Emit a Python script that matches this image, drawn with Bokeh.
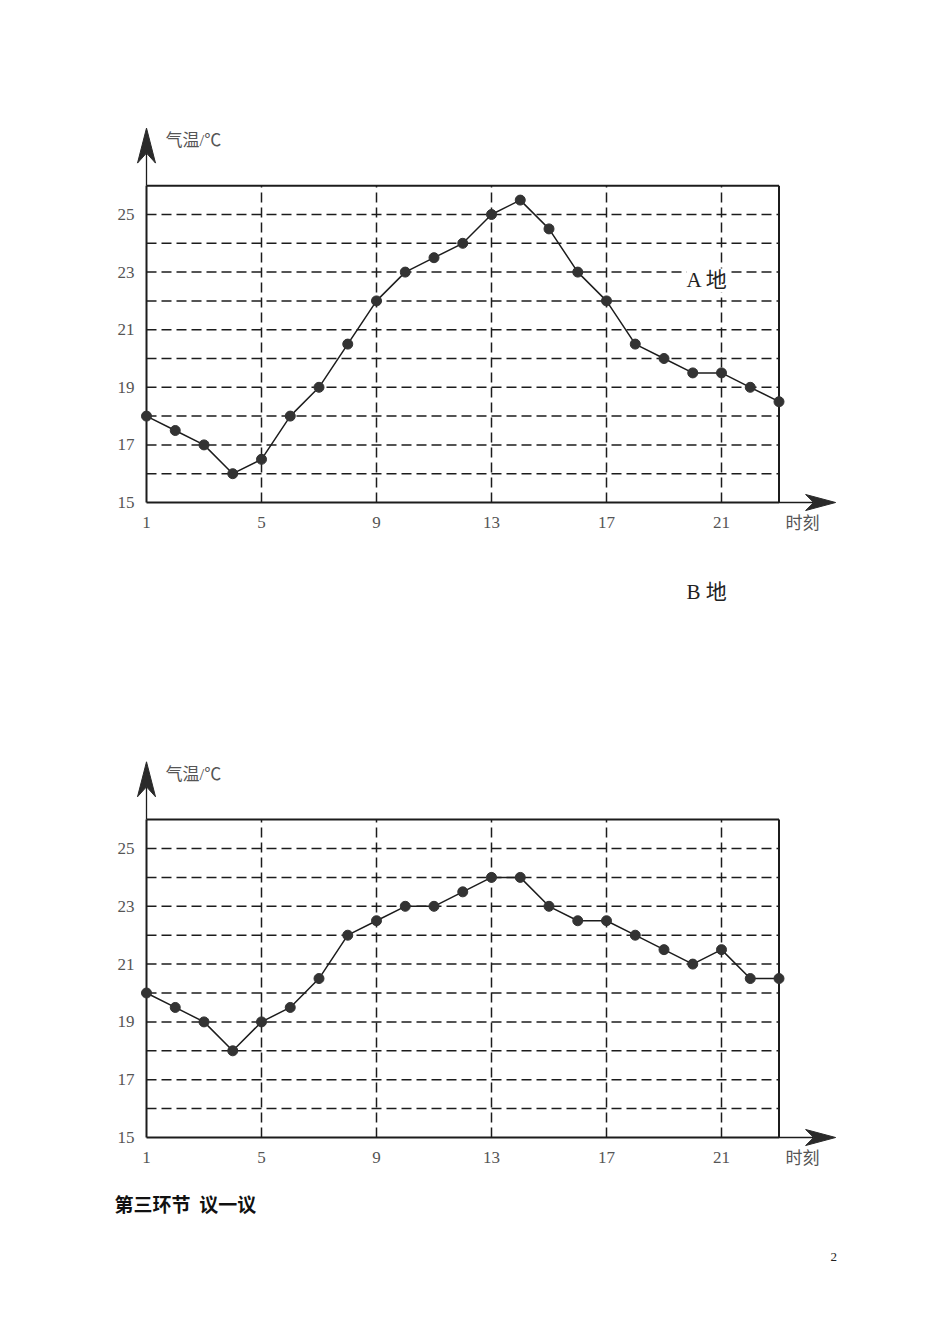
from bokeh.plotting import figure
from bokeh.models import Range1d, FixedTicker, Label
from bokeh.layouts import column
from bokeh.embed import file_html
from bokeh.resources import INLINE

# ---------------- data ----------------
hours = list(range(1, 24))
temp_a = [18, 17.5, 17, 16, 16.5, 18, 19, 20.5, 22, 23, 23.5, 24, 25, 25.5,
          24.5, 23, 22, 20.5, 20, 19.5, 19.5, 19, 18.5]
temp_b = [20, 19.5, 19, 18, 19, 19.5, 20.5, 22, 22.5, 23, 23, 23.5, 24, 24,
          23, 22.5, 22.5, 22, 21.5, 21, 21.5, 20.5, 20.5]
x_ticks = [1, 5, 9, 13, 17, 21]
y_ticks = [15, 17, 19, 21, 23, 25]
grid_x = [5, 9, 13, 17, 21]
grid_y = [16, 17, 18, 19, 20, 21, 22, 23, 24, 25]
x_min, x_max = 1, 23
y_min, y_max = 15, 26
y_title = "气温/℃"
x_title = "时刻"
place_a = "A 地"
place_b = "B 地"
section = "第三环节\u00a0\u00a0议一议"
page_no = "2"

SERIF = "'Liberation Serif', 'Noto Sans CJK SC'"
INK = "#1c1c1c"
GRAY = "#555555"

# layout (pixels)
FRAME_LEFT = 60          # frame starts here; the axis panel lies left of it
FRAME_W = 890
AXIS_PX = 146            # where hour 1 sits
SX = 28.75               # px per hour
BOTTOM_PANEL = 40


def make_chart(temps, fig_h, axis_y_px, sy):
    frame_h = fig_h - BOTTOM_PANEL
    x0 = x_min - (AXIS_PX - FRAME_LEFT) / SX
    x1 = x0 + FRAME_W / SX
    y1 = y_min + axis_y_px / sy
    y0 = y1 - frame_h / sy
    p = figure(output_backend="svg", toolbar_location=None,
               frame_width=FRAME_W, frame_height=frame_h,
               min_border_left=FRAME_LEFT, min_border_right=0,
               min_border_top=0, min_border_bottom=BOTTOM_PANEL,
               x_range=Range1d(x0, x1), y_range=Range1d(y0, y1),
               background_fill_color="white", border_fill_color="white")
    p.outline_line_color = None
    p.grid.visible = False
    sx = SX

    for ax in (p.xaxis, p.yaxis):
        ax.axis_line_color = None
        ax.major_tick_line_color = None
        ax.minor_tick_line_color = None
        ax.major_label_text_font = "Liberation Serif"
        ax.major_label_text_font_size = "17px"
        ax.major_label_text_color = GRAY
    p.xaxis.ticker = FixedTicker(ticks=x_ticks)
    p.yaxis.ticker = FixedTicker(ticks=y_ticks)
    p.xaxis.fixed_location = y_min
    p.yaxis.fixed_location = x_min
    p.xaxis.major_label_standoff = 8
    p.yaxis.major_label_standoff = 6

    # dashed grid inside the box
    p.segment(x0=[x_min] * len(grid_y), x1=[x_max] * len(grid_y), y0=grid_y, y1=grid_y,
              line_color=INK, line_width=1.5, line_dash="10 5")
    p.segment(x0=grid_x, x1=grid_x, y0=[y_min] * len(grid_x), y1=[y_max] * len(grid_x),
              line_color=INK, line_width=1.5, line_dash="10 5")

    # box: top and right borders, axes
    p.segment(x0=[x_min, x_max, x_min, x_min], x1=[x_max, x_max, x_min, x_max],
              y0=[y_max, y_min, y_min, y_min], y1=[y_max, y_max, y_max, y_min],
              line_color=INK, line_width=2)

    # arrows
    ty = y_max + 2.0
    tx = x_max + 1.97
    L, hw, notch = 35, 9, 10
    p.segment(x0=[x_min], x1=[x_min], y0=[y_max], y1=[ty - (L - notch) / sy],
              line_color=INK, line_width=1.3)
    p.patch(x=[x_min, x_min - hw / sx, x_min, x_min + hw / sx],
            y=[ty, ty - L / sy, ty - (L - notch) / sy, ty - L / sy],
            fill_color="#2a2a2a", line_color="#2a2a2a", line_width=1)
    Lx, hwx, notchx = 30, 8, 8
    p.segment(x0=[x_max], x1=[tx - (Lx - notchx) / sx], y0=[y_min], y1=[y_min],
              line_color=INK, line_width=1.3)
    p.patch(x=[tx, tx - Lx / sx, tx - (Lx - notchx) / sx, tx - Lx / sx],
            y=[y_min, y_min + hwx / sy, y_min, y_min - hwx / sy],
            fill_color="#2a2a2a", line_color="#2a2a2a", line_width=1)

    # series
    p.line(hours, temps, line_color=INK, line_width=1.5)
    p.scatter(hours, temps, size=10, fill_color="#333333", line_color="#333333")

    # axis titles
    p.add_layout(Label(x=x_min + 0.66, y=y_max + 1.57, text=y_title,
                       text_font=SERIF, text_font_size="17px", text_color=GRAY,
                       text_align="left", text_baseline="middle"))
    p.add_layout(Label(x=x_max + 0.23, y=y_min - 0.73, text=x_title,
                       text_font=SERIF, text_font_size="17px", text_color=GRAY,
                       text_align="left", text_baseline="middle"))
    return p


# chart A: page y 0..656, y=15 at page 502, 28.8 px per degree
pa = make_chart(temp_a, 656, 502, 28.8)
pa.add_layout(Label(x=19.78, y=22.71, text=place_a, text_font=SERIF,
                    text_font_size="21px", text_color="#222222",
                    text_align="left", text_baseline="middle",
                    background_fill_color="white"))
pa.add_layout(Label(x=19.78, y=11.88, text=place_b, text_font=SERIF,
                    text_font_size="21px", text_color="#222222",
                    text_align="left", text_baseline="middle"))

# chart B: page y 656..1340, y=15 at page 1137 (481 px into the figure)
pb = make_chart(temp_b, 684, 481, 28.9)
pb.add_layout(Label(x=-0.11, y=12.72, text=section,
                    text_font="'Noto Sans CJK SC'", text_font_style="bold",
                    text_font_size="19px", text_color="#111111",
                    text_align="left", text_baseline="middle"))
pb.add_layout(Label(x=24.9, y=10.85, text=page_no, text_font="Liberation Serif",
                    text_font_size="13px", text_color="#222222",
                    text_align="center", text_baseline="middle"))

layout = column(pa, pb, spacing=0)
open("out.html", "w").write(file_html(layout, INLINE))
